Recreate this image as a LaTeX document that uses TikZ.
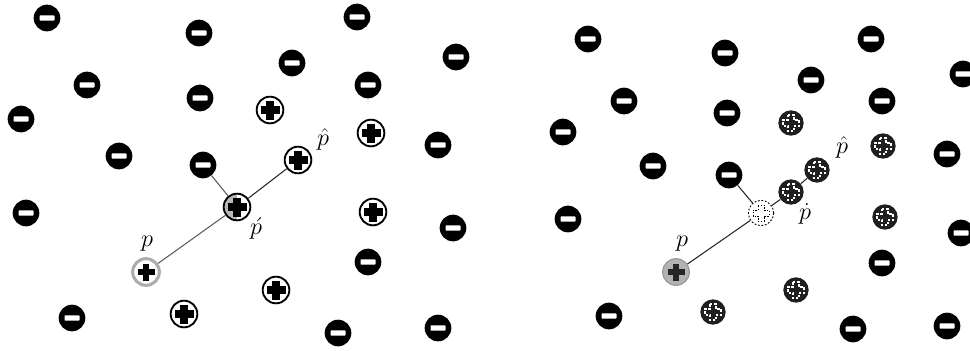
\documentclass[tikz,border=0pt]{standalone}
\usepackage{amsmath}
\usepackage{tikz}
\usetikzlibrary{positioning}

\begin{document}
\begin{tikzpicture}[
  x=0.03cm, y=-0.03cm,
  every node/.style={font=\fontsize{20}{24}\selectfont},
  tag/.style={inner sep=0pt},
  charge/.style={circle, minimum size=0.8cm, inner sep=0pt},
  chneg/.style={charge, fill=black, path picture={
      \fill[white, rounded corners=0.6pt] (path picture bounding box.center) ++(-7.5,-2.6) rectangle ++(15,5.2);}},
  chpos/.style={charge, fill=white, draw=black, line width=1.6pt, path picture={
      \fill[black] (path picture bounding box.center) ++(-9.5,-3.6) rectangle ++(19,7.2);
      \fill[black] (path picture bounding box.center) ++(-3.6,-9.5) rectangle ++(7.2,19);}},
  chhalf/.style={charge, fill=white, draw=black, line width=1.6pt, path picture={
      \fill[gray!55] (path picture bounding box.south west) rectangle (path picture bounding box.north);
      \fill[black] (path picture bounding box.center) ++(-9.5,-3.6) rectangle ++(19,7.2);
      \fill[black] (path picture bounding box.center) ++(-3.6,-9.5) rectangle ++(7.2,19);}},
  chgray/.style={charge, fill=white, draw=gray!65, line width=2.6pt, path picture={
      \fill[black] (path picture bounding box.center) ++(-8.5,-3.3) rectangle ++(17,6.6);
      \fill[black] (path picture bounding box.center) ++(-3.3,-8.5) rectangle ++(6.6,17);}},
  chgrayfill/.style={charge, fill=gray!60, draw=gray!80, line width=1pt, path picture={
      \fill[black!85] (path picture bounding box.center) ++(-8.5,-3.3) rectangle ++(17,6.6);
      \fill[black!85] (path picture bounding box.center) ++(-3.3,-8.5) rectangle ++(6.6,17);}},
  chdark/.style={charge, minimum size=0.76cm, fill=black!88, path picture={
      \draw[white, line width=0.9pt, dash pattern=on 2pt off 1.5pt]
        (path picture bounding box.center) ++(-3,-8) -- ++(6,0) -- ++(0,5) -- ++(5,0) -- ++(0,6)
        -- ++(-5,0) -- ++(0,5) -- ++(-6,0) -- ++(0,-5) -- ++(-5,0) -- ++(0,-6) -- ++(5,0) -- cycle;}},
  chghost/.style={charge, minimum size=0.76cm, fill=white, draw=black, line width=0.8pt,
      dash pattern=on 1.5pt off 1.5pt, path picture={
      \draw[black, line width=0.7pt, dash pattern=on 1.2pt off 1.2pt]
        (path picture bounding box.center) ++(-3,-8) -- ++(6,0) -- ++(0,5) -- ++(5,0) -- ++(0,6)
        -- ++(-5,0) -- ++(0,5) -- ++(-6,0) -- ++(0,-5) -- ++(-5,0) -- ++(0,-6) -- ++(5,0) -- cycle;}},
  link/.style={line width=0.9pt, black!85},
]
\useasboundingbox (0,0) rectangle (970,350);

%% ── Left panel: negative charges ───────────────────────────────────────────
\node[chneg] (nL1)  at (47,18)   {};
\node[chneg] (nL2)  at (199,33)  {};
\node[chneg] (nL3)  at (357,17)  {};
\node[chneg] (nL4)  at (456,57)  {};
\node[chneg] (nL5)  at (292,63)  {};
\node[chneg] (nL6)  at (87,85)   {};
\node[chneg] (nL7)  at (200,98)  {};
\node[chneg] (nL8)  at (368,85)  {};
\node[chneg] (nL9)  at (21,119)  {};
\node[chneg] (nL10) at (119,156) {};
\node[chneg] (nL11) at (203,165) {};
\node[chneg] (nL12) at (438,145) {};
\node[chneg] (nL13) at (26,213)  {};
\node[chneg] (nL14) at (453,228) {};
\node[chneg] (nL15) at (368,262) {};
\node[chneg] (nL16) at (72,318)  {};
\node[chneg] (nL17) at (338,333) {};
\node[chneg] (nL18) at (438,328) {};

%% ── Left panel: positive charges ───────────────────────────────────────────
\node[chpos] (pL1) at (270,110) {};
\node[chpos] (pL2) at (371,133) {};
\node[chpos] (pL3) at (373,212) {};
\node[chpos] (pL4) at (276,290) {};
\node[chpos] (pL5) at (184,314) {};
\node[chpos]   (pLhat)   at (298,160) {};
\node[chhalf]  (pLacute) at (237,207) {};
\node[chgray]  (pLstart) at (146,272) {};

\node[tag] (lLstart) at (147,244) {$p$};
\node[tag] (lLacute) at (256,228) {$\acute{p}$};
\node[tag] (lLhat)   at (323,139) {$\hat{p}$};

\draw[link, gray!70!black] (pLstart) -- (pLacute);
\draw[link] (pLacute) -- (pLhat);
\draw[link, gray!70!black] (nL11) -- (pLacute);

%% ── Right panel: negative charges ──────────────────────────────────────────
\node[chneg] (nR1)  at (588,39)  {};
\node[chneg] (nR2)  at (725,53)  {};
\node[chneg] (nR3)  at (871,39)  {};
\node[chneg] (nR4)  at (963,74)  {};
\node[chneg] (nR5)  at (811,80)  {};
\node[chneg] (nR6)  at (624,101) {};
\node[chneg] (nR7)  at (727,113) {};
\node[chneg] (nR8)  at (882,101) {};
\node[chneg] (nR9)  at (563,132) {};
\node[chneg] (nR10) at (653,166) {};
\node[chneg] (nR11) at (729,175) {};
\node[chneg] (nR12) at (947,154) {};
\node[chneg] (nR13) at (568,219) {};
\node[chneg] (nR14) at (961,233) {};
\node[chneg] (nR15) at (882,263) {};
\node[chneg] (nR16) at (609,316) {};
\node[chneg] (nR17) at (853,329) {};
\node[chneg] (nR18) at (947,326) {};

%% ── Right panel: positive charges ──────────────────────────────────────────
\node[chdark] (pR1) at (791,123) {};
\node[chdark] (pR2) at (883,146) {};
\node[chdark] (pR3) at (885,217) {};
\node[chdark] (pR4) at (796,290) {};
\node[chdark] (pR5) at (713,312) {};
\node[chdark]     (pRhat)   at (817,170) {};
\node[chdark]     (pRdot)   at (791,192) {};
\node[chghost]    (pRghost) at (761,213) {};
\node[chgrayfill] (pRstart) at (676,272) {};

\node[tag] (lRstart) at (682,244) {$p$};
\node[tag] (lRdot)   at (805,214) {$\dot{p}$};
\node[tag] (lRhat)   at (842,147) {$\hat{p}$};

\draw[link] (pRstart) -- (pRghost);
\draw[link] (pRghost) -- (pRdot);
\draw[link] (pRdot) -- (pRhat);
\draw[link] (nR11) -- (pRghost);

\end{tikzpicture}
\end{document}
